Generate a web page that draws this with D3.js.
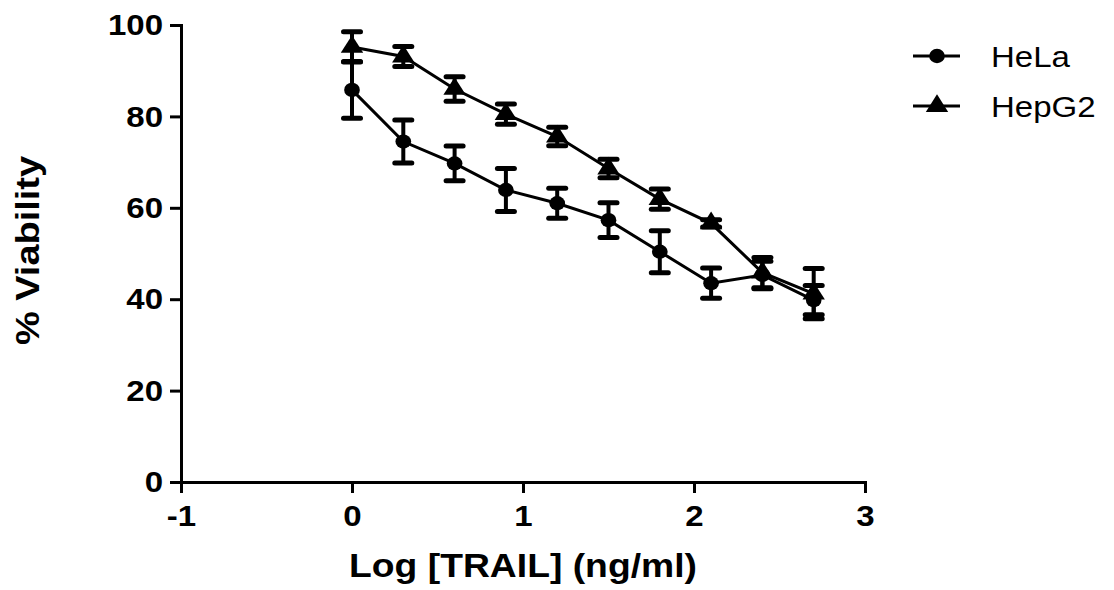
<!DOCTYPE html>
<html>
<head>
<meta charset="utf-8">
<script src="https://cdn.jsdelivr.net/npm/d3@7"></script>
<style>
  body { margin: 0; background: #fff; }
  svg { font-family: "Liberation Sans", Arial, sans-serif; }
</style>
</head>
<body>
<div class="chart"></div>
<script>
// data
const logDose = [0, 0.3, 0.6, 0.9, 1.2, 1.5, 1.8, 2.1, 2.4, 2.7];
const helaMean = [85.8, 74.5, 69.7, 63.9, 61.0, 57.3, 50.4, 43.5, 45.3, 39.8];
const helaErr = [6.2, 4.7, 3.8, 4.7, 3.3, 3.8, 4.6, 3.3, 3.0, 3.2];
const hepMean = [95.2, 93.1, 86.0, 80.5, 75.6, 68.6, 61.9, 56.6, 45.8, 41.2];
const hepErr = [3.3, 2.2, 2.7, 2.2, 2.0, 2.0, 2.2, 0.8, 3.3, 5.5];
const xTicks = [-1, 0, 1, 2, 3];
const yTicks = [0, 20, 40, 60, 80, 100];

const W = 1114, H = 590;
const margin = {top: 25, right: 249, bottom: 108, left: 181};
const width = W - margin.left - margin.right;
const height = H - margin.top - margin.bottom;

// the source picture is slightly stretched sideways
const SX = 1.1;

const svg = d3.select('.chart').append('svg')
  .attr('width', W)
  .attr('height', H);

const g = svg.append('g')
  .attr('transform', 'translate(' + margin.left + ',' + margin.top + ')');

const x = d3.scaleLinear().domain([-1, 3]).range([0, width]);
const y = d3.scaleLinear().domain([0, 100]).range([height, 0]);

// axes
const xAxis = g.append('g')
  .attr('transform', 'translate(0,' + height + ')')
  .call(d3.axisBottom(x).tickValues(xTicks)
    .tickFormat(d => d < 0 ? '-' + Math.abs(d) : String(d))
    .tickSizeOuter(0).tickSize(11).tickPadding(12));

const yAxis = g.append('g')
  .call(d3.axisLeft(y).tickValues(yTicks).tickSizeOuter(0).tickSize(11).tickPadding(7));

[xAxis, yAxis].forEach(a => {
  a.select('.domain').attr('stroke', '#000').attr('stroke-width', 3);
  a.selectAll('.tick line').attr('stroke', '#000').attr('stroke-width', 3);
  a.selectAll('.tick text')
    .attr('fill', '#000')
    .style('font-size', '30px')
    .style('font-weight', 'bold');
});
xAxis.selectAll('.tick text')
  .attr('dy', '0.71em')
  .attr('transform', 'scale(' + SX + ',1)');
yAxis.selectAll('.tick text')
  .attr('x', -18 / SX)
  .attr('transform', 'scale(' + SX + ',1)');

// axis titles
svg.append('text')
  .attr('transform', 'translate(' + (margin.left + x(1)) + ',577) scale(1.13,1)')
  .attr('text-anchor', 'middle')
  .style('font-size', '33px')
  .style('font-weight', 'bold')
  .text('Log [TRAIL] (ng/ml)');

svg.append('text')
  .attr('transform', 'translate(39,' + (margin.top + y(50) - 3) + ') rotate(-90) scale(1.15,1)')
  .attr('text-anchor', 'middle')
  .style('font-size', '33px')
  .style('font-weight', 'bold')
  .text('% Viability');

const series = [
  {name: 'HeLa', mean: helaMean, err: helaErr, symbol: d3.symbolCircle, size: 160},
  {name: 'HepG2', mean: hepMean, err: hepErr, symbol: d3.symbolTriangle, size: 180}
];

const line = d3.line()
  .x(d => x(d.x))
  .y(d => y(d.y));

const marker = (s) => d3.symbol().type(s.symbol).size(s.size)();

series.forEach(s => {
  const pts = logDose.map((d, i) => ({x: d, y: s.mean[i], e: s.err[i]}));

  g.append('path')
    .datum(pts)
    .attr('fill', 'none')
    .attr('stroke', '#000')
    .attr('stroke-width', 3)
    .attr('d', line);

  const eb = g.append('g').selectAll('g')
    .data(pts)
    .enter().append('g');

  eb.append('line')
    .attr('x1', d => x(d.x)).attr('x2', d => x(d.x))
    .attr('y1', d => y(d.y + d.e)).attr('y2', d => y(d.y - d.e))
    .attr('stroke', '#000').attr('stroke-width', 4);

  [1, -1].forEach(sign => {
    eb.append('line')
      .attr('x1', d => x(d.x) - 8.5).attr('x2', d => x(d.x) + 8.5)
      .attr('y1', d => y(d.y + sign * d.e)).attr('y2', d => y(d.y + sign * d.e))
      .attr('stroke', '#000').attr('stroke-width', 5)
      .attr('stroke-linecap', 'round');
  });

  g.append('g').selectAll('path')
    .data(pts)
    .enter().append('path')
    .attr('transform', d => 'translate(' + x(d.x) + ',' + y(d.y) + ') scale(' + SX + ',1)')
    .attr('d', marker(s))
    .attr('fill', '#000');
});

// legend
const legend = svg.append('g')
  .attr('transform', 'translate(913,56)');

const items = legend.selectAll('g')
  .data(series)
  .enter().append('g')
  .attr('transform', (d, i) => 'translate(0,' + i * 50 + ')');

items.append('line')
  .attr('x1', 0).attr('x2', 47)
  .attr('stroke', '#000').attr('stroke-width', 3);

items.append('path')
  .attr('transform', 'translate(24,0) scale(' + SX + ',1)')
  .attr('d', d => marker(d))
  .attr('fill', '#000');

items.append('text')
  .attr('transform', 'translate(78,0) scale(' + SX + ',1)')
  .attr('dy', '0.36em')
  .style('font-size', '30px')
  .text(d => d.name);
</script>
</body>
</html>
